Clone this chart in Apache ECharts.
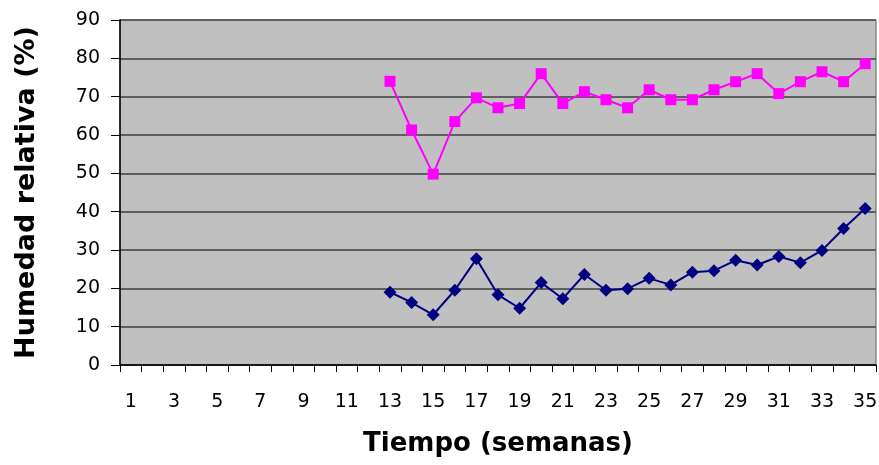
<!DOCTYPE html>
<html><head><meta charset="utf-8">
<script src="https://cdn.jsdelivr.net/npm/echarts@6/dist/echarts.min.js"></script>
<style>html,body{margin:0;padding:0;background:#fff}#c{width:879px;height:465px}</style>
</head><body><div id="c"></div>
<script>
var weeks = [];
for (var i = 1; i <= 35; i++) weeks.push(String(i));
var yTicks = [0,10,20,30,40,50,60,70,80,90];
// weeks 1..12 have no data
var pinkSeries = [null,null,null,null,null,null,null,null,null,null,null,null,
  74.0,61.3,49.8,63.5,69.7,67.1,68.2,76.0,68.2,71.3,69.2,67.1,
  71.8,69.2,69.2,71.8,73.9,76.0,70.8,73.9,76.5,73.9,78.6];
var navySeries = [null,null,null,null,null,null,null,null,null,null,null,null,
  19.0,16.3,13.1,19.5,27.7,18.3,14.8,21.5,17.3,23.6,19.5,19.9,
  22.6,20.9,24.2,24.6,27.3,26.1,28.3,26.7,29.9,35.6,40.8];
var xTitle = 'Tiempo (semanas)';
var yTitle = 'Humedad relativa (%)';

var chart = echarts.init(document.getElementById('c'), null, {renderer:'canvas'});
chart.setOption({
  animation:false,
  backgroundColor:'#ffffff',
  grid:{left:120, top:20, right:3, bottom:100, outerBoundsMode:'none', containLabel:false,
        show:true, backgroundColor:'#C0C0C0', borderWidth:1, borderColor:'#5f5f5f'},
  xAxis:{
    type:'category', data:weeks, boundaryGap:true,
    name:xTitle, nameLocation:'middle', nameGap:66,
    nameTextStyle:{fontFamily:'DejaVu Sans', fontWeight:'bold', fontSize:26, color:'#000'},
    axisLine:{lineStyle:{color:'#000', width:1.5}},
    axisTick:{show:true, interval:0, length:7, lineStyle:{color:'#000'}},
    axisLabel:{interval:1, margin:28, fontFamily:'DejaVu Sans', fontSize:19, color:'#000'},
    splitLine:{show:false}
  },
  yAxis:{
    type:'value', min:yTicks[0], max:yTicks[yTicks.length-1], interval:10,
    name:yTitle, nameLocation:'middle', nameGap:80,
    nameTextStyle:{fontFamily:'DejaVu Sans', fontWeight:'bold', fontSize:27, color:'#000'},
    axisLine:{show:true, lineStyle:{color:'#000', width:1.5}},
    axisTick:{show:true, length:9, inside:false, lineStyle:{color:'#000'}},
    axisLabel:{margin:20, fontFamily:'DejaVu Sans', fontSize:19, color:'#000'},
    splitLine:{show:true, lineStyle:{color:'#5f5f5f', width:2}}
  },
  series:[
    {type:'line', data:pinkSeries, symbol:'rect', symbolSize:11, connectNulls:false,
     lineStyle:{color:'#FF00FF', width:2}, itemStyle:{color:'#FF00FF'}},
    {type:'line', data:navySeries, symbol:'diamond', symbolSize:13, connectNulls:false,
     lineStyle:{color:'#000080', width:2}, itemStyle:{color:'#000080'}}
  ]
});
</script></body></html>
